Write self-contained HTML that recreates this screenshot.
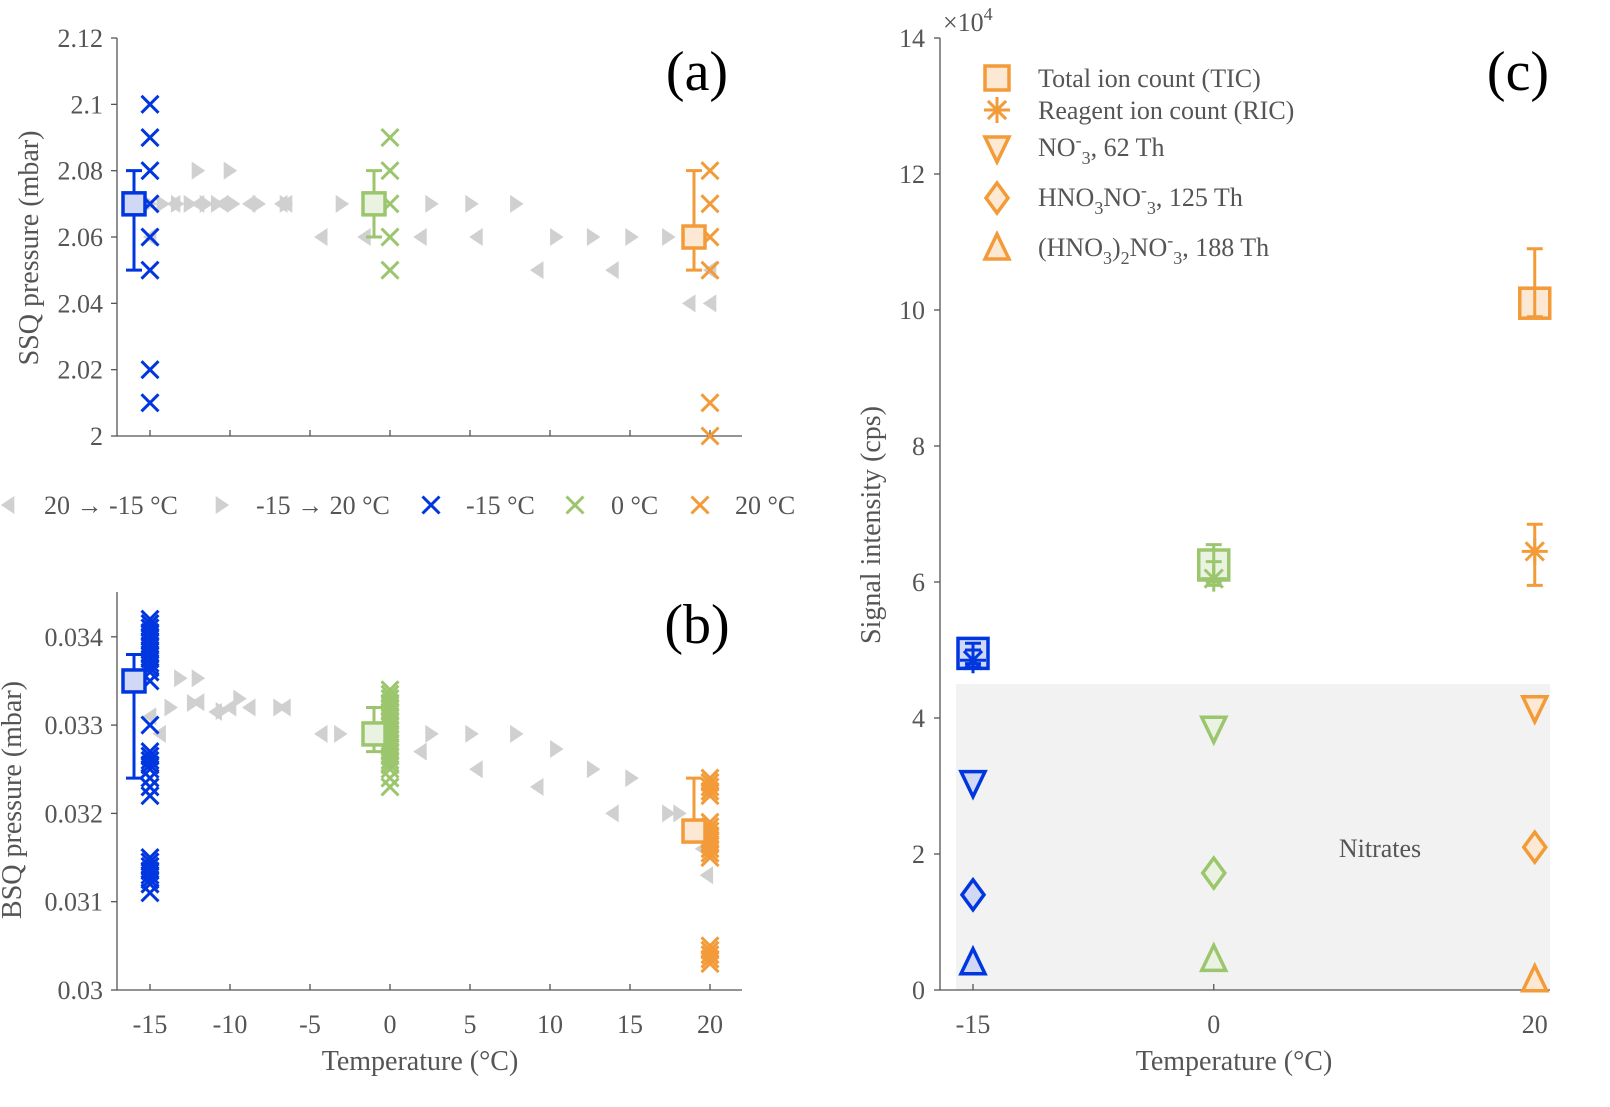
<!DOCTYPE html>
<html><head><meta charset="utf-8"><style>
html,body{margin:0;padding:0;background:#fff;}
svg{display:block;font-family:"Liberation Serif",serif;}
</style></head><body>
<svg id="fig" width="1610" height="1107" viewBox="0 0 1610 1107" xmlns="http://www.w3.org/2000/svg">
<g id="pa"></g>
<g id="pb"></g>
<g id="pc"></g>
<g id="mid"></g>
</svg>
<script>
// ---------- data ----------
const tempsCat = [-15, 0, 20];
// panel a grey triangles
const aLeftT = [20, 18.7, 20, 13.9, 9.2, 5.4, 1.9, -1.6, -4.3, -6.5, -6.8, -8.8, -10.5, -12, -13.5, -15];
const aLeftV = [2.04, 2.04, 2.05, 2.05, 2.05, 2.06, 2.06, 2.06, 2.06, 2.07, 2.07, 2.07, 2.07, 2.07, 2.07, 2.06];
const aRightT = [-15, -14.2, -13.3, -12.5, -11.5, -10.8, -9.8, -8.2, -6.5, -12, -10, -3, 2.6, 5.1, 7.9, 10.4, 12.7, 15.1, 17.4, 19.4];
const aRightV = [2.07, 2.07, 2.07, 2.07, 2.07, 2.07, 2.07, 2.07, 2.07, 2.08, 2.08, 2.07, 2.07, 2.07, 2.07, 2.06, 2.06, 2.06, 2.06, 2.06];
const aCrossM15 = [2.10, 2.09, 2.08, 2.07, 2.06, 2.05, 2.02, 2.01];
const aCross0 = [2.09, 2.08, 2.07, 2.06, 2.05];
const aCross20 = [2.08, 2.07, 2.06, 2.05, 2.01, 2.00];
const aMeanT = [-16, -1, 19];
const aMean = [2.07, 2.07, 2.06];
const aLo = [2.05, 2.06, 2.05];
const aHi = [2.08, 2.08, 2.08];
const aTicks = [2, 2.02, 2.04, 2.06, 2.08, 2.1, 2.12];
const aTickLabels = ["2", "2.02", "2.04", "2.06", "2.08", "2.1", "2.12"];
// panel b
const bLeftT = [-15, -14.4, -12, -10.9, -10, -8.8, -6.6, -4.3, 1.9, 5.4, 9.2, 13.9, 19.8, 19.5];
const bLeftV = [0.0331, 0.0329, 0.03326, 0.03315, 0.0332, 0.0332, 0.0332, 0.0329, 0.0327, 0.0325, 0.0323, 0.0320, 0.0313, 0.0316];
const bRightT = [-13.1, -12, -13.7, -12.3, -10.5, -9.4, -6.9, -3.1, 2.6, 5.1, 7.9, 10.4, 12.7, 15.1, 17.4, 18.1, 19.5];
const bRightV = [0.03353, 0.03353, 0.0332, 0.03325, 0.03316, 0.0333, 0.0332, 0.0329, 0.0329, 0.0329, 0.0329, 0.03273, 0.0325, 0.0324, 0.0320, 0.0320, 0.0318];
const bCrossM15 = [0.0342, 0.03415, 0.0341, 0.03405, 0.034, 0.03395, 0.0339, 0.03385, 0.0338, 0.03375, 0.0337, 0.03365, 0.0336, 0.0335, 0.0330, 0.0327, 0.03265, 0.0326, 0.03255, 0.0325, 0.0324, 0.0323, 0.0322, 0.0315, 0.03145, 0.0314, 0.03135, 0.0313, 0.03125, 0.0312, 0.0311];
const bCross0 = [0.0334, 0.03335, 0.0333, 0.03325, 0.0332, 0.03315, 0.0331, 0.03305, 0.033, 0.03295, 0.0329, 0.03285, 0.0328, 0.03275, 0.0327, 0.03265, 0.0326, 0.03255, 0.0325, 0.0324, 0.0323];
const bCross20 = [0.0324, 0.03235, 0.0323, 0.03225, 0.0322, 0.0319, 0.03185, 0.0318, 0.03175, 0.0317, 0.03165, 0.0316, 0.03155, 0.0315, 0.0305, 0.03045, 0.0304, 0.03035, 0.0303];
const bMeanT = [-16, -1, 19];
const bMean = [0.0335, 0.0329, 0.0318];
const bLo = [0.0324, 0.0327, 0.0318];
const bHi = [0.0338, 0.0332, 0.0324];
const bTicks = [0.03, 0.031, 0.032, 0.033, 0.034];
const bTickLabels = ["0.03", "0.031", "0.032", "0.033", "0.034"];
const xTicks = [-15, -10, -5, 0, 5, 10, 15, 20];
const xTickLabels = ["-15", "-10", "-5", "0", "5", "10", "15", "20"];
// panel c (units of 1e4 cps)
const cTIC = [4.95, 6.25, 10.1];
const cTIClo = [4.8, 6.0, 9.9];
const cTIChi = [5.1, 6.55, 10.9];
const cRIC = [4.85, 6.05, 6.45];
const cRIClo = [4.75, 5.95, 5.95];
const cRIChi = [5.0, 6.3, 6.85];
const cNO3 = [3.05, 3.85, 4.15];
const cHNO3 = [1.4, 1.72, 2.1];
const cHNO32 = [0.4, 0.45, 0.15];
const cTicks = [0, 2, 4, 6, 8, 10, 12, 14];
const cTickLabels = ["0", "2", "4", "6", "8", "10", "12", "14"];
const cXTickLabels = ["-15", "0", "20"];

// ---------- helpers ----------
const NS = "http://www.w3.org/2000/svg";
const BLUE = "#0036e0", GREEN = "#9cc66d", ORANGE = "#f29b38", GREY = "#d0d0d0", AX = "#555";
const FILLS = {"#0036e0": "#d0d8f5", "#9cc66d": "#eaf3e1", "#f29b38": "#fde9d3"};
const COLS = [BLUE, GREEN, ORANGE];
const FS = 26, TFS = 28;
function mk(tag, attrs, parent) {
  const e = document.createElementNS(NS, tag);
  for (const k in attrs) e.setAttribute(k, attrs[k]);
  parent.appendChild(e);
  return e;
}
function txt(parent, x, y, s, size, anchor, extra) {
  const t = mk("text", Object.assign({x: x, y: y, "font-size": size, fill: "#555", "text-anchor": anchor || "middle"}, extra || {}), parent);
  t.textContent = s;
  return t;
}
const xa = v => 150 + (v + 15) * 16;
const ya = v => 436 - (v - 2) / 0.02 * 66.33;
const yb = v => 990 - (v - 0.03) / 0.001 * 88.3;
const xc = v => 973 + (v + 15) * 16.05;
const yc = v => 990 - v * 68;

function triangle(g, x, y, dir, col, name) {
  const s = 9;
  const pts = dir > 0 ? `${x-s*0.7},${y-s} ${x-s*0.7},${y+s} ${x+s*0.8},${y}` : `${x+s*0.7},${y-s} ${x+s*0.7},${y+s} ${x-s*0.8},${y}`;
  const p = mk("polygon", {points: pts, fill: col}, g);
  
  
}
function cross(g, x, y, col, name) {
  const s = 8.5;
  const p = mk("path", {d: `M${x-s},${y-s}L${x+s},${y+s}M${x-s},${y+s}L${x+s},${y-s}`, stroke: col, "stroke-width": 3, fill: "none"}, g);
  
  
}
function errbar(g, x, y1, y2, col, name) {
  const p = mk("path", {d: `M${x},${y1}V${y2}M${x-8},${y1}H${x+8}M${x-8},${y2}H${x+8}`, stroke: col, "stroke-width": 3, fill: "none"}, g);
  
  
}
function square(g, x, y, col, size, name) {
  const r = mk("rect", {x: x-size/2, y: y-size/2, width: size, height: size, fill: FILLS[col], stroke: col, "stroke-width": 3.5}, g);
  
  
}
function axesAB(g, yf, ticks, labels, yTop, name) {
  const ax = mk("g", {}, g);
  
  
  const y0 = yf(ticks[0]);
  mk("path", {d: `M117,${yTop}V${y0}H742`, stroke: AX, "stroke-width": 1.3, fill: "none"}, ax);
  ticks.forEach((t, i) => {
    mk("line", {x1: 111, x2: 117, y1: yf(t), y2: yf(t), stroke: AX, "stroke-width": 1.3}, ax);
    txt(ax, 103, yf(t) + 9, labels[i], FS, "end");
  });
  xTicks.forEach((t, i) => {
    mk("line", {x1: xa(t), x2: xa(t), y1: y0, y2: y0 - 6, stroke: AX, "stroke-width": 1.3}, ax);
  });
}
function drawTP(g, yf, LT, LV, RT, RV, cm15, c0, c20, mT, m, lo, hi, pre) {
  LT.forEach((t, i) => triangle(g, xa(t), yf(LV[i]), -1, GREY, pre + "-cooling-point"));
  RT.forEach((t, i) => triangle(g, xa(t), yf(RV[i]), 1, GREY, pre + "-warming-point"));
  [cm15, c0, c20].forEach((arr, k) => arr.forEach(v => cross(g, xa(tempsCat[k]), yf(v), COLS[k], pre + "-cross-" + tempsCat[k])));
  mT.forEach((t, k) => {
    errbar(g, xa(t), yf(lo[k]), yf(hi[k]), COLS[k], pre + "-errorbar-" + tempsCat[k]);
    square(g, xa(t), yf(m[k]), COLS[k], 22, pre + "-mean-" + tempsCat[k]);
  });
}

// ---------- panel a ----------
const pa = document.getElementById("pa");
axesAB(pa, ya, aTicks, aTickLabels, 38, "panel-a-axes");
drawTP(pa, ya, aLeftT, aLeftV, aRightT, aRightV, aCrossM15, aCross0, aCross20, aMeanT, aMean, aLo, aHi, "a");
let t = txt(pa, 0, 0, "SSQ pressure  (mbar)", TFS, "middle", {transform: "translate(38,248) rotate(-90)"});


t = txt(pa, 697, 90, "(a)", 56, "middle", {fill: "#000"});



// ---------- panel b ----------
const pb = document.getElementById("pb");
axesAB(pb, yb, bTicks, bTickLabels, 592, "panel-b-axes");
drawTP(pb, yb, bLeftT, bLeftV, bRightT, bRightV, bCrossM15, bCross0, bCross20, bMeanT, bMean, bLo, bHi, "b");
xTicks.forEach((v, i) => {
  const l = txt(pb, xa(v), 1033, xTickLabels[i], FS, "middle");
  
  
});
t = txt(pb, 0, 0, "BSQ pressure  (mbar)", TFS, "middle", {transform: "translate(21,800) rotate(-90)"});


t = txt(pb, 420, 1070, "Temperature (°C)", TFS, "middle");


t = txt(pb, 697, 643, "(b)", 56, "middle", {fill: "#000"});



// ---------- middle legend ----------
const mid = document.getElementById("mid");
triangle(mid, 8, 505, -1, GREY, "legend-cooling-marker");
txt(mid, 44, 514, "20 → -15 °C", FS, "start", {"font-family": "Liberation Serif, DejaVu Serif, serif"});
triangle(mid, 222, 505, 1, GREY, "legend-warming-marker");
txt(mid, 256, 514, "-15 → 20 °C", FS, "start", {"font-family": "Liberation Serif, DejaVu Serif, serif"});
cross(mid, 431, 505, BLUE, "legend-m15-marker");
txt(mid, 466, 514, "-15 °C", FS, "start");
cross(mid, 575, 505, GREEN, "legend-0-marker");
txt(mid, 611, 514, "0 °C", FS, "start");
cross(mid, 700, 505, ORANGE, "legend-20-marker");
txt(mid, 735, 514, "20 °C", FS, "start");

// ---------- panel c ----------
const pc = document.getElementById("pc");
const shade = mk("rect", {x: 956, y: yc(4.5), width: 594, height: yc(0) - yc(4.5), fill: "#f2f2f2"}, pc);


t = txt(pc, 1380, 857, "Nitrates", FS, "middle");


const cax = mk("g", {}, pc);


mk("path", {d: `M940,${yc(14)}V${yc(0)}H1550`, stroke: AX, "stroke-width": 1.3, fill: "none"}, cax);
cTicks.forEach((v, i) => {
  mk("line", {x1: 934, x2: 940, y1: yc(v), y2: yc(v), stroke: AX, "stroke-width": 1.3}, cax);
  txt(cax, 925, yc(v) + 9, cTickLabels[i], FS, "end");
});
tempsCat.forEach((v, i) => {
  mk("line", {x1: xc(v), x2: xc(v), y1: 990, y2: 984, stroke: AX, "stroke-width": 1.3}, cax);
  txt(cax, xc(v), 1033, cXTickLabels[i], FS, "middle");
});
t = txt(cax, 943, 31, "×10", FS, "start");
const sup = mk("tspan", {dy: -11, "font-size": 18}, t); sup.textContent = "4";
t = txt(pc, 0, 0, "Signal intensity (cps)", TFS, "middle", {transform: "translate(880,525) rotate(-90)"});


t = txt(pc, 1234, 1070, "Temperature (°C)", TFS, "middle");


t = txt(pc, 1518, 90, "(c)", 56, "middle", {fill: "#000"});



function star(g, x, y, col, name) {
  const s = 13, d = s * 0.7;
  const p = mk("path", {d: `M${x},${y-s}V${y+s}M${x-d},${y-d}L${x+d},${y+d}M${x-d},${y+d}L${x+d},${y-d}M${x-s},${y}H${x+s}`, stroke: col, "stroke-width": 3, fill: "none"}, g);
  
  
}
function tri(g, x, y, up, col, name) {
  const w = 12, h = 11;
  const pts = up ? `${x-w},${y+h} ${x+w},${y+h} ${x},${y-h-3}` : `${x-w},${y-h} ${x+w},${y-h} ${x},${y+h+3}`;
  const p = mk("polygon", {points: pts, fill: FILLS[col], stroke: col, "stroke-width": 3.5}, g);
  
  
}
function diamond(g, x, y, col, name) {
  const p = mk("polygon", {points: `${x},${y-15} ${x+11},${y} ${x},${y+15} ${x-11},${y}`, fill: FILLS[col], stroke: col, "stroke-width": 3.5}, g);
  
  
}
tempsCat.forEach((v, k) => {
  const x = xc(v), col = COLS[k];
  square(pc, x, yc(cTIC[k]), col, 30, "tic-marker-" + v);
  errbar(pc, x, yc(cTIClo[k]), yc(cTIChi[k]), col, "tic-errorbar-" + v);
  star(pc, x, yc(cRIC[k]), col, "ric-marker-" + v);
  errbar(pc, x, yc(cRIClo[k]), yc(cRIChi[k]), col, "ric-errorbar-" + v);
  tri(pc, x, yc(cNO3[k]), false, col, "no3-marker-" + v);
  diamond(pc, x, yc(cHNO3[k]), col, "hno3no3-marker-" + v);
  tri(pc, x, yc(cHNO32[k]), true, col, "hno32no3-marker-" + v);
});
// legend c
const lg = mk("g", {}, pc);


square(lg, 997, 78, ORANGE, 24, "legend-tic-marker");
star(lg, 997, 110, ORANGE, "legend-ric-marker");
tri(lg, 997, 148, false, ORANGE, "legend-no3-marker");
diamond(lg, 997, 198, ORANGE, "legend-hno3no3-marker");
tri(lg, 997, 248, true, ORANGE, "legend-hno32no3-marker");
// parts: [text, dy, small]
function legText(y, parts) {
  const tt = txt(lg, 1038, y, "", FS, "start");
  parts.forEach(p => {
    const a = {};
    if (p[1]) a.dy = p[1];
    if (p[2]) a["font-size"] = 18;
    const s = mk("tspan", a, tt);
    s.textContent = p[0];
  });
}
txt(lg, 1038, 87, "Total ion count (TIC)", FS, "start");
txt(lg, 1038, 119, "Reagent ion count (RIC)", FS, "start");
legText(156, [["NO"], ["-", -10, 1], ["3", 18, 1], [", 62 Th", -8]]);
legText(206, [["HNO"], ["3", 8, 1], ["NO", -8], ["-", -10, 1], ["3", 18, 1], [", 125 Th", -8]]);
legText(256, [["(HNO"], ["3", 8, 1], [")", -8], ["2", 8, 1], ["NO", -8], ["-", -10, 1], ["3", 18, 1], [", 188 Th", -8]]);
</script>
</body></html>
